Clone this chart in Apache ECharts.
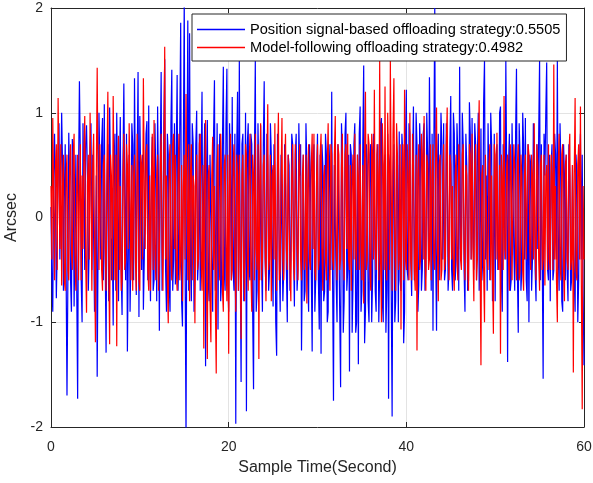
<!DOCTYPE html>
<html>
<head>
<meta charset="utf-8">
<script src="https://cdn.jsdelivr.net/npm/echarts@6/dist/echarts.min.js"></script>
<style>
  html, body { margin: 0; padding: 0; background: #fff; }
  #chart { width: 593px; height: 483px; }
</style>
</head>
<body>
<div id="chart"></div>
<script>
// sample step in seconds
var step = 0.1;

var blueName = 'Position signal-based offloading strategy:0.5505';
var redName = 'Model-following offloading strategy:0.4982';

var xTicks = [0, 20, 40, 60];
var yTicks = [-2, -1, 0, 1, 2];

// position signal-based (blue), one value every 0.1 s, 2 s per row
var blueValues = [
  0.1,-0.6,-0.9,0.4,0.8,0.2,-0.77,-0.3,0.6,0.9,-0.4,0.3,1.0,0.5,-0.7,0.2,0.7,-0.5,-1.70,-0.6,
  0.81,0.3,-0.6,-0.9,0.75,0.5,-0.85,-0.2,0.6,-0.7,-1.73,0.4,1.30,0.6,-0.6,-1.0,0.9,0.3,-0.5,0.7,
  0.88,0.4,-0.7,-0.3,0.66,0.9,-0.5,0.6,-0.2,-0.9,-0.5,0.4,-1.52,-0.3,1.0,0.5,-0.4,0.7,0.95,-0.6,
  1.08,-0.4,-1.29,0.3,0.7,-0.8,1.05,0.4,-0.6,-0.2,-1.03,0.5,0.8,-0.7,1.0,0.2,-0.8,0.4,0.96,-0.5,
  -0.93,0.5,1.28,0.2,-0.6,0.8,-1.28,-0.4,0.6,-0.9,-0.35,0.9,0.7,-0.6,1.33,0.3,-0.74,0.5,1.39,-0.95,
  0.97,0.4,-0.5,0.6,-0.88,-0.4,0.3,0.8,0.92,-0.6,1.07,-0.3,-0.8,0.4,0.77,-0.7,-0.6,0.9,0.4,-0.8,
  1.06,0.3,-1.08,0.6,1.39,-0.7,-0.4,0.9,1.51,-0.5,-0.9,0.8,0.6,-0.6,-0.9,0.9,1.41,-0.7,-0.4,0.9,
  -0.64,0.6,1.36,-0.7,-0.3,0.9,1.86,-0.8,-1.04,0.7,2.1,-0.5,-2.1,0.4,1.88,-0.7,1.76,-0.4,-0.8,0.9,
  0.71,-0.9,-0.6,0.7,1.02,-0.6,-0.4,0.8,-0.7,0.5,1.2,-0.5,0.3,0.9,-1.42,0.4,0.93,-0.6,-0.8,0.6,
  0.6,-0.5,-0.9,0.8,1.31,-0.7,-0.3,0.9,-1.07,0.4,0.8,-0.8,-0.6,0.7,1.44,-0.5,-0.7,0.9,1.42,-0.6,
  -0.9,0.9,0.4,-0.6,1.15,-0.5,-0.7,0.8,-1.97,0.6,1.2,-0.7,1.5,-0.4,-1.57,0.7,0.8,-0.8,-0.4,1.0,
  -1.85,0.7,0.9,-0.5,-0.6,0.8,0.7,-0.9,-1.64,0.6,1.5,-0.9,-0.7,0.9,0.35,-0.6,0.88,-0.4,-0.9,0.7,
  1.3,-0.4,-0.7,0.8,0.5,-0.7,-0.5,0.9,0.6,-0.3,-0.85,0.7,0.4,-1.0,-1.32,0.8,0.5,-0.4,-0.9,0.6,
  0.6,-0.8,-0.5,0.7,0.3,-0.5,-1.0,0.6,0.5,-0.7,-0.4,0.8,0.7,-0.3,-0.85,0.6,0.8,-0.7,-0.5,0.9,
  0.4,0.7,-1.27,-0.4,0.6,-0.8,-0.7,0.9,0.5,-0.6,-0.9,0.7,0.4,-0.5,-1.28,0.5,0.7,-0.9,-0.6,0.4,
  0.8,-0.6,-1.07,0.6,-1.3,0.7,0.5,-0.8,-0.7,0.8,0.6,-1.0,-0.9,0.7,0.4,-0.5,1.2,-0.6,-1.75,0.5,
  0.5,-0.6,-1.0,0.7,0.7,-0.9,-1.62,0.9,0.6,-1.1,-0.8,0.8,1.0,-0.7,-0.5,0.6,-1.47,0.7,0.6,-1.1,
  -0.6,0.7,0.9,-1.1,-1.0,0.6,-1.4,0.8,1.06,-0.9,-0.7,0.7,1.45,-1.2,-0.9,0.7,0.5,-0.8,-1.0,0.6,
  0.7,-1.0,-0.6,0.8,0.4,-0.7,-0.9,0.6,0.7,-1.0,-0.5,0.9,0.95,-0.8,-1.0,0.5,0.6,-1.1,-0.7,0.8,
  -1.73,0.5,0.6,-0.7,-1.9,0.4,0.7,-1.0,-0.8,0.6,0.5,-1.0,0.82,-0.6,-0.7,0.8,0.6,-1.2,-0.9,0.7,
  1.22,-0.5,-0.6,0.9,0.8,-0.4,-0.75,0.5,1.06,-0.6,-0.4,1.0,0.7,-0.9,-0.65,0.9,0.6,-0.7,-0.5,0.8,
  0.9,-0.7,-0.5,1.0,0.6,-0.4,1.34,0.3,-0.7,0.8,-1.08,0.7,2.0,-0.3,-1.08,0.5,0.8,-0.6,-0.6,1.0,
  0.7,-0.4,0.9,-0.6,-0.5,0.9,0.6,-0.7,-0.5,0.7,1.16,-0.5,-0.7,1.0,0.8,-0.6,-0.4,0.9,0.6,-0.7,
  1.44,-0.3,-0.4,1.0,0.7,-0.5,-0.9,0.8,0.5,-0.7,-0.6,1.1,0.8,-0.4,0.95,-0.2,-0.5,0.9,0.7,-0.6,
  0.6,1.0,-0.7,-0.3,0.85,-0.6,-0.4,1.1,1.5,-0.4,0.4,-0.7,0.9,0.3,-0.6,1.0,0.7,-0.8,-0.5,0.8,
  -0.8,0.5,0.7,-0.5,-0.4,1.0,1.06,-0.6,-0.9,0.7,0.6,-0.4,1.5,0.4,-1.38,0.5,0.8,-0.7,-0.6,0.9,
  0.9,-0.3,-0.7,0.8,1.42,-0.5,-1.1,0.9,0.6,-0.7,-0.5,1.0,0.7,-0.4,0.95,-0.6,-0.8,0.7,-1.0,0.6,
  0.5,-0.7,-0.4,0.9,0.6,-0.5,-0.8,0.7,-0.3,0.8,1.5,-0.6,0.7,-0.4,-1.54,0.8,0.4,1.0,1.48,-0.5,
  -0.6,0.6,-0.8,0.5,0.7,-0.6,-0.5,0.8,0.6,-0.4,1.5,-0.3,-0.7,0.9,0.5,-0.8,-0.9,0.7,0.4,-0.6,
  0.6,-0.5,-0.8,0.7,0.4,-0.7,-0.6,0.5,0.5,-0.6,-0.9,0.6,0.4,-1.0,-0.6,0.5,0.8,-0.4,0.6,-0.7,
  -1.41
];

// model-following (red), one value every 0.1 s, 2 s per row
var redValues = [
  0.3,-0.4,0.95,0.2,-0.6,0.5,0.7,-0.5,1.14,0.4,-0.3,0.7,-0.65,0.3,0.6,-0.6,-0.7,0.4,0.6,-0.5,
  -0.6,0.5,0.7,-0.3,-0.5,0.6,0.8,-0.4,-0.7,0.3,0.6,-0.6,0.2,0.7,-0.6,0.4,-0.3,0.6,0.97,-0.4,
  -0.91,0.3,0.6,-0.4,1.0,0.3,-0.7,0.5,0.8,-0.3,-1.19,0.4,1.43,0.2,-0.5,0.7,0.7,-0.5,-0.7,0.5,
  0.6,-0.3,-0.7,0.5,1.2,-0.4,-1.21,0.6,0.4,-0.6,1.16,0.3,-0.6,0.6,-1.23,0.4,0.78,-0.5,0.3,-0.7,
  -0.6,0.4,0.8,-0.5,-0.4,0.7,0.5,-0.3,0.9,0.2,-0.6,0.5,-0.7,0.4,0.6,-0.4,-0.7,0.8,0.4,-0.6,
  -0.7,0.6,0.5,-0.4,1.33,0.3,-0.3,0.6,0.7,-0.5,-0.7,0.4,-0.7,0.3,0.8,-0.5,0.93,-0.3,-0.6,0.4,
  0.6,-0.7,-0.4,0.5,0.8,-0.3,-0.7,0.4,1.63,-0.4,0.4,-0.6,-1.01,0.5,0.7,-0.4,-0.6,0.7,0.8,-0.3,
  0.6,-0.5,-0.7,0.4,0.8,-0.6,-0.4,0.5,-0.8,0.3,0.6,-0.4,1.18,0.3,-0.6,0.7,-0.8,0.4,0.7,-0.6,
  0.4,0.3,-1.01,0.4,0.6,-0.5,-0.4,0.7,0.8,-0.4,-0.7,0.5,-1.25,0.3,0.93,-0.6,-1.35,0.4,0.5,-0.8,
  -1.19,0.4,0.77,-0.5,0.3,-0.8,-1.49,0.5,0.7,-0.4,-0.6,0.8,0.4,-0.7,-0.9,0.5,0.6,-0.3,-0.8,0.6,
  -1.3,0.3,0.8,-0.6,-0.5,0.5,0.7,-0.4,-0.9,0.6,0.4,-0.7,0.6,-0.4,-1.16,0.4,0.6,-0.5,-0.8,0.7,
  0.6,-0.4,-0.7,0.5,0.8,-0.5,-0.9,0.6,0.4,-0.6,0.8,-0.3,-0.5,0.7,-1.35,0.3,0.9,-0.6,-0.4,0.5,
  0.6,-0.3,-0.8,0.4,1.08,-0.5,-0.4,0.6,-0.8,0.4,0.5,-0.4,0.9,-0.3,-0.7,0.5,1.0,-0.6,-0.5,0.4,
  0.95,-0.4,-0.6,0.5,0.8,-0.3,-0.5,0.6,0.6,-0.5,-0.8,0.4,0.7,-0.4,-0.6,0.7,0.7,-0.3,-0.6,0.5,
  0.7,-0.4,-0.6,0.4,0.6,-0.5,-0.4,0.6,-0.82,0.3,0.7,-0.4,-0.5,0.5,0.8,-0.3,0.8,-0.5,-0.6,0.4,
  0.7,-0.5,-0.4,0.6,0.8,-0.3,-0.7,0.4,0.5,-0.4,-0.6,0.5,0.9,-0.3,-0.7,0.7,0.6,-0.4,-0.5,0.6,
  0.97,-0.3,-0.6,0.7,0.6,-0.5,-0.4,0.5,0.8,-0.4,-0.6,0.6,0.7,-0.3,0.8,-0.4,-0.5,0.5,-0.7,0.4,
  0.6,-0.4,0.8,-0.3,-0.5,0.6,0.4,-0.5,0.7,-0.3,-0.6,0.5,-0.82,0.6,1.2,-0.5,-0.4,0.8,0.7,-0.5,
  -0.7,0.8,0.6,-0.4,1.22,-0.3,-0.5,0.7,0.4,-0.6,1.5,-0.4,-1.0,0.9,0.5,-0.5,1.25,-0.4,-0.6,1.0,
  0.5,-0.5,1.5,0.3,-0.7,0.8,1.33,-0.3,-0.7,0.9,0.6,-0.5,-0.4,0.7,-1.07,0.4,0.7,-0.6,1.22,-0.4,
  -0.5,0.7,0.4,-0.6,1.0,-0.4,-0.6,0.8,0.5,-0.5,-0.7,0.6,-1.27,0.4,0.7,-0.5,-0.4,0.8,0.6,-0.4,
  0.97,-0.4,-0.7,0.6,0.5,-0.5,-0.4,0.7,-0.6,0.4,0.7,-0.4,-0.5,0.6,1.05,-0.3,-0.8,0.5,0.6,-0.6,
  -0.5,0.4,0.7,-0.5,-0.4,0.7,1.05,-0.3,-0.6,0.6,0.5,-0.4,0.3,-0.5,-0.7,0.4,0.6,-0.4,-0.6,0.7,
  0.5,-0.4,-0.5,0.6,0.7,-0.3,-0.6,0.5,0.4,-0.5,-0.7,0.7,0.6,-0.4,0.8,-0.3,-0.8,0.5,0.7,-0.6,
  -0.4,0.6,1.12,-0.4,-1.41,0.4,0.5,-0.5,-1.0,0.6,0.6,-0.4,-0.5,0.5,0.7,-0.6,0.4,-0.5,-1.11,0.7,
  0.6,-0.4,0.81,-0.3,-0.5,0.5,-1.3,0.6,0.4,-0.5,1.16,-0.3,-0.4,0.5,0.6,-0.4,-0.7,0.7,0.5,-0.6,
  -0.6,0.7,0.5,-0.4,-0.6,0.5,0.7,-0.6,-0.5,0.6,0.4,-0.5,-0.7,0.4,0.6,-0.4,-0.4,0.7,0.6,-0.3,
  -0.5,0.6,0.4,-0.4,0.9,-0.3,-0.6,0.7,0.5,-0.4,-0.7,0.5,0.6,-0.5,-0.4,0.6,-0.65,0.4,0.5,-0.5,
  0.7,-0.4,-0.5,0.6,0.4,-0.5,1.46,-0.4,0.3,-0.6,-1.0,0.5,0.8,-0.4,-0.6,0.6,0.7,-0.5,-0.8,0.5,
  0.6,-0.4,-0.5,0.6,0.8,-0.5,-0.4,0.5,-1.48,0.4,1.14,-0.5,-0.6,0.5,0.7,-0.4,1.06,-0.6,-1.83,0.3,
  -0.4
];

function toPairs(values) {
  return values.map(function (v, i) {
    return [+(i * step).toFixed(1), v];
  });
}

var axisColor = '#262626';
var gridColor = '#e3e3e3';
var font = 'Liberation Sans, Arial, Helvetica, sans-serif';

var chartDom = document.getElementById('chart');
var myChart = echarts.init(chartDom);

var option = {
  animation: false,
  backgroundColor: '#fff',
  grid: {
    left: 51,
    right: 9,
    top: 8,
    bottom: 56,
    containLabel: false,
    outerBoundsMode: 'none'
  },
  legend: {
    left: 192,
    top: 14,
    orient: 'vertical',
    icon: 'rect',
    backgroundColor: '#fff',
    borderColor: axisColor,
    borderWidth: 1,
    borderRadius: 0,
    padding: [8, 6, 6, 5],
    itemGap: 3,
    itemWidth: 48,
    itemHeight: 1.5,
    textStyle: { fontFamily: font, fontSize: 14.6, color: '#000' },
    data: [blueName, redName]
  },
  xAxis: [
    {
      type: 'value',
      min: xTicks[0],
      max: xTicks[xTicks.length - 1],
      interval: 20,
      name: 'Sample Time(Second)',
      nameLocation: 'middle',
      nameGap: 33,
      nameTextStyle: { fontFamily: font, fontSize: 16, color: axisColor },
      axisLine: { onZero: false, lineStyle: { color: axisColor, width: 1 } },
      axisTick: { inside: true, length: 5, lineStyle: { color: axisColor } },
      axisLabel: { fontFamily: font, fontSize: 14, color: axisColor, margin: 13 },
      splitLine: { show: true, lineStyle: { color: gridColor, width: 1 } }
    },
    {
      type: 'value',
      position: 'top',
      min: xTicks[0],
      max: xTicks[xTicks.length - 1],
      interval: 20,
      axisLine: { onZero: false, lineStyle: { color: axisColor, width: 1 } },
      axisTick: { inside: true, length: 5, lineStyle: { color: axisColor } },
      axisLabel: { show: false },
      splitLine: { show: false }
    }
  ],
  yAxis: [
    {
      type: 'value',
      min: yTicks[0],
      max: yTicks[yTicks.length - 1],
      interval: 1,
      name: 'Arcsec',
      nameLocation: 'middle',
      nameGap: 19,
      nameTextStyle: { fontFamily: font, fontSize: 16, color: axisColor },
      axisLine: { show: true, onZero: false, lineStyle: { color: axisColor, width: 1 } },
      axisTick: { show: true, inside: true, length: 5, lineStyle: { color: axisColor } },
      axisLabel: { fontFamily: font, fontSize: 14, color: axisColor, margin: 8 },
      splitLine: { show: true, lineStyle: { color: gridColor, width: 1 } }
    },
    {
      type: 'value',
      position: 'right',
      min: yTicks[0],
      max: yTicks[yTicks.length - 1],
      interval: 1,
      axisLine: { show: true, onZero: false, lineStyle: { color: axisColor, width: 1 } },
      axisTick: { show: true, inside: true, length: 5, lineStyle: { color: axisColor } },
      axisLabel: { show: false },
      splitLine: { show: false }
    }
  ],
  series: [
    {
      name: blueName,
      type: 'line',
      symbol: 'none',
      clip: true,
      color: '#0000ff',
      lineStyle: { color: '#0000ff', width: 1.2 },
      data: toPairs(blueValues)
    },
    {
      name: redName,
      type: 'line',
      symbol: 'none',
      clip: true,
      color: '#ff0000',
      lineStyle: { color: '#ff0000', width: 1.2 },
      data: toPairs(redValues)
    }
  ]
};

option && myChart.setOption(option);
window.addEventListener('resize', function () {
  myChart.resize();
});
</script>
</body>
</html>
